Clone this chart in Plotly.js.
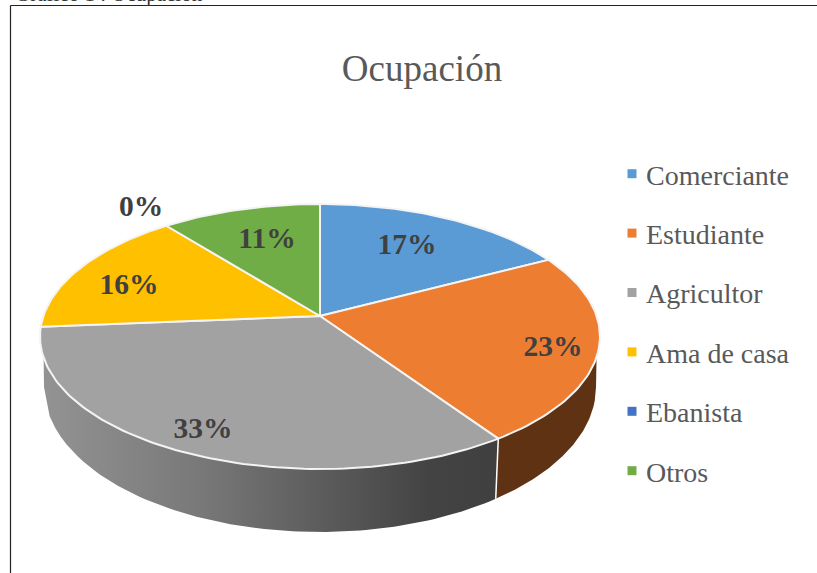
<!DOCTYPE html>
<html><head><meta charset="utf-8">
<script src="https://cdn.plot.ly/plotly-3.0.1.min.js"></script>
<style>html,body{margin:0;padding:0;background:#fff;overflow:hidden}</style>
</head><body><div id="chart" style="width:817px;height:573px"></div>
<script>
const categories = ['Comerciante','Estudiante','Agricultor','Ama de casa','Ebanista','Otros'];
const shares = [17.3,23.2,33.2,15.6,0,10.7];
const colors = ['#5b9bd5','#ed7d31','#a2a2a2','#ffc000','#4472c4','#70ad47'];
const chartTitle = 'Ocupación';
const captionText = 'Gráfico 1 : Ocupación';
const labelPos = [[407,247],[553,349],[203,431],[129,287],[141,209],[267,241]];

// Pie geometry in screen pixels
const cx=320, cy=316, persp=0.1547, ky=129.3, kx=276.6;
const base={cx:320, cy:387, rx:276, ry:145};
const rimRx=280;
function rim(pct){
  const t=pct/100*2*Math.PI, u=Math.sin(t), w=-Math.cos(t), d=1-persp*w;
  return [cx+kx*u/d, cy+ky*w/d];
}
function baseAt(s){ // point on the base ellipse at relative horizontal position s (front half)
  return [base.cx+base.rx*s, base.cy+base.ry*Math.sqrt(Math.max(0,1-s*s))];
}
function arc(a,b){const n=Math.max(2,Math.ceil(Math.abs(b-a)*3)),o=[];for(let i=0;i<=n;i++)o.push(rim(a+(b-a)*i/n));return o;}
// Wall below a stretch of the rim: visible rim points, then the base edge back to the silhouette
function wall(a,b,sil){
  const top=arc(a,b).filter(p=>p[1]>=357);
  const n=80, low=[];
  const far=sil>0?top[top.length-1]:top[0];
  const sEnd=(far[0]-cx)/rimRx;
  for(let i=0;i<=n;i++) low.push(baseAt(sil+(sEnd-sil)*i/n));
  return sil>0 ? top.concat(low.slice().reverse()) : low.concat(top);
}
const cum=[];shares.reduce((s,v,i)=>(cum[i]=s,s+v),0);
const traces=[];
const orangeWall=wall(cum[1],cum[2],1);
const grayWall=wall(cum[2],cum[3],-1);
traces.push({x:orangeWall.map(p=>p[0]),y:orangeWall.map(p=>p[1]),mode:'lines',fill:'toself',fillcolor:'#5f3213',line:{width:0,color:'rgba(0,0,0,0)'},showlegend:false,hoverinfo:'skip'});
traces.push({x:grayWall.map(p=>p[0]),y:grayWall.map(p=>p[1]),mode:'lines',fill:'toself',
  fillgradient:{type:'horizontal',colorscale:[[0,'#939393'],[0.35,'#787878'],[0.65,'#585858'],[0.85,'#434343'],[1,'#404040']]},
  line:{width:0,color:'rgba(0,0,0,0)'},showlegend:false,hoverinfo:'skip'});
const split=rim(cum[2]), splitLow=baseAt((split[0]-cx)/rimRx);
traces.push({x:[split[0],splitLow[0]],y:[split[1],splitLow[1]],mode:'lines',line:{color:'#fff',width:1.5},showlegend:false,hoverinfo:'skip'});
// top wedges
shares.forEach((v,i)=>{
  if(v<=0) return;
  const p=arc(cum[i],cum[i]+v);
  const xs=[cx,...p.map(q=>q[0]),cx], ys=[cy,...p.map(q=>q[1]),cy];
  traces.push({x:xs,y:ys,mode:'lines',fill:'toself',fillcolor:colors[i],line:{color:'#f4f4f4',width:2},showlegend:false,hoverinfo:'skip'});
});
// legend entries
categories.forEach((c,i)=>{
  traces.push({x:[null],y:[null],name:c,legendgroup:c,mode:'markers',marker:{symbol:'square',size:9,color:colors[i]},hoverinfo:'skip'});
});
// percentage labels
traces.push({x:labelPos.map(p=>p[0]),y:labelPos.map(p=>p[1]),mode:'text',text:shares.map(v=>Math.round(v)+'%'),
  textposition:'middle center',textfont:{family:'Liberation Serif',size:29.5,color:'#404040',weight:'bold'},showlegend:false,hoverinfo:'skip'});

const layout={
  width:817,height:573,margin:{l:0,r:0,t:0,b:0},paper_bgcolor:'#fff',plot_bgcolor:'#fff',
  xaxis:{range:[0,817],visible:false,fixedrange:true},
  yaxis:{range:[573,0],visible:false,fixedrange:true},
  title:{text:chartTitle,x:422/817,xanchor:'center',y:1-68.5/573,yanchor:'middle',font:{family:'Liberation Serif',size:37,color:'#595959'}},
  legend:{x:606/817,xanchor:'left',y:1-149/573,yanchor:'top',font:{family:'Liberation Serif',size:28,color:'#595959'},tracegroupgap:20,bgcolor:'rgba(0,0,0,0)',itemclick:false,itemdoubleclick:false},
  shapes:[
    {type:'line',xref:'paper',yref:'paper',x0:10.5/817,x1:1,y0:1-5.5/573,y1:1-5.5/573,line:{color:'#222',width:1.2}},
    {type:'line',xref:'paper',yref:'paper',x0:10.5/817,x1:10.5/817,y0:0,y1:1-5.5/573,line:{color:'#222',width:1.2}}
  ],
  annotations:[{text:captionText,xref:'paper',yref:'paper',x:13/817,xanchor:'left',y:1+6/573,yanchor:'middle',showarrow:false,font:{family:'Liberation Serif',size:21,color:'#333'}}]
};
Plotly.newPlot('chart',traces,layout,{displayModeBar:false}).then(()=>{
  // the reference's legend swatches sit closer to their text
  document.querySelectorAll('#chart .legend .legendsymbols').forEach(g=>g.setAttribute('transform','translate(6,0)'));
});
</script></body></html>
